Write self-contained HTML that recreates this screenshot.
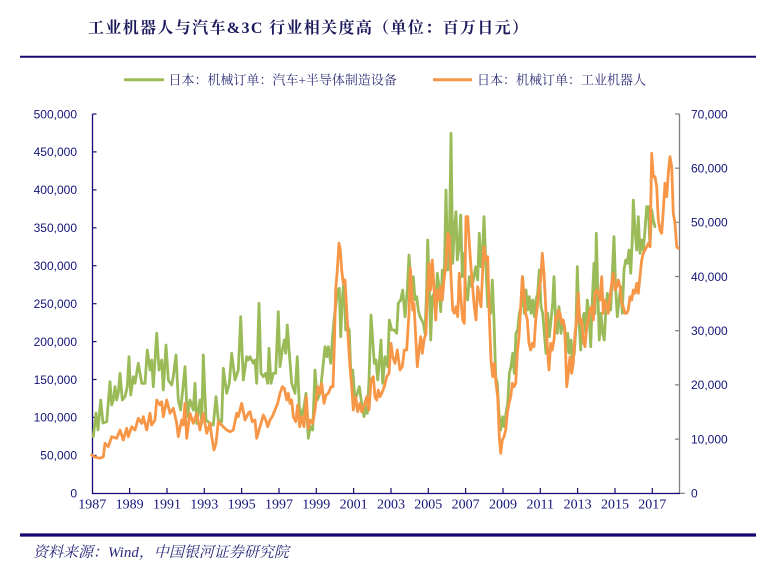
<!DOCTYPE html>
<html>
<head>
<meta charset="utf-8">
<style>
  html,body{margin:0;padding:0;background:#fff;}
  svg{display:block;}
  .title{font-family:"Liberation Serif","Noto Serif CJK SC",serif;font-weight:bold;font-size:16px;fill:#1d1a5c;letter-spacing:1.35px;}
  .leg{font-family:"Liberation Serif","Noto Serif CJK SC",serif;font-size:13px;fill:#30307a;}
  .yl{font-family:"Liberation Sans",sans-serif;font-size:12px;fill:#14147a;}
  .xl{font-family:"Liberation Serif",serif;font-size:14px;fill:#14147a;}
  .src{font-family:"Liberation Serif","Noto Serif CJK SC",serif;font-style:italic;font-size:15px;fill:#2a2a7a;}
</style>
</head>
<body>
<svg width="777" height="576" viewBox="0 0 777 576" xmlns="http://www.w3.org/2000/svg">
  <rect x="0" y="0" width="777" height="576" fill="#fff"/>
  <!-- title -->
  <text class="title" x="88" y="33">工业机器人与汽车&amp;3C 行业相关度高（单位：百万日元）</text>
  <line x1="20" y1="56.8" x2="756" y2="56.8" stroke="#16086e" stroke-width="2"/>

  <!-- legend -->
  <line x1="124" y1="79.7" x2="164" y2="79.7" stroke="#9BBB59" stroke-width="3"/>
  <text class="leg" x="168.5" y="84.5">日本：机械订单：汽车+半导体制造设备</text>
  <line x1="433" y1="79.7" x2="472" y2="79.7" stroke="#F79646" stroke-width="3"/>
  <text class="leg" x="477" y="84.5">日本：机械订单：工业机器人</text>

  <!-- left axis -->
  <line x1="92.5" y1="114" x2="92.5" y2="493.5" stroke="#1a0a78" stroke-width="1.3"/>
  <g stroke="#1a0a78" stroke-width="1.2">
    <line x1="92.5" y1="114" x2="96.5" y2="114"/>
    <line x1="92.5" y1="151.9" x2="96.5" y2="151.9"/>
    <line x1="92.5" y1="189.9" x2="96.5" y2="189.9"/>
    <line x1="92.5" y1="227.8" x2="96.5" y2="227.8"/>
    <line x1="92.5" y1="265.7" x2="96.5" y2="265.7"/>
    <line x1="92.5" y1="303.7" x2="96.5" y2="303.7"/>
    <line x1="92.5" y1="341.6" x2="96.5" y2="341.6"/>
    <line x1="92.5" y1="379.5" x2="96.5" y2="379.5"/>
    <line x1="92.5" y1="417.4" x2="96.5" y2="417.4"/>
    <line x1="92.5" y1="455.4" x2="96.5" y2="455.4"/>
  </g>
  <g class="yl" text-anchor="end">
    <text x="77" y="118.3">500,000</text>
    <text x="77" y="156.2">450,000</text>
    <text x="77" y="194.2">400,000</text>
    <text x="77" y="232.1">350,000</text>
    <text x="77" y="270">300,000</text>
    <text x="77" y="308">250,000</text>
    <text x="77" y="345.9">200,000</text>
    <text x="77" y="383.8">150,000</text>
    <text x="77" y="421.7">100,000</text>
    <text x="77" y="459.7">50,000</text>
    <text x="77" y="497.6">0</text>
  </g>

  <!-- right axis -->
  <line x1="679.5" y1="114" x2="679.5" y2="493.5" stroke="#808080" stroke-width="1.3"/>
  <g stroke="#808080" stroke-width="1.2">
    <line x1="675" y1="114" x2="679.5" y2="114"/>
    <line x1="675" y1="168.2" x2="679.5" y2="168.2"/>
    <line x1="675" y1="222.3" x2="679.5" y2="222.3"/>
    <line x1="675" y1="276.5" x2="679.5" y2="276.5"/>
    <line x1="675" y1="330.7" x2="679.5" y2="330.7"/>
    <line x1="675" y1="384.9" x2="679.5" y2="384.9"/>
    <line x1="675" y1="439.1" x2="679.5" y2="439.1"/>
    <line x1="675" y1="493.3" x2="685" y2="493.3"/>
  </g>
  <g class="yl">
    <text x="691" y="118.3">70,000</text>
    <text x="691" y="172.5">60,000</text>
    <text x="691" y="226.6">50,000</text>
    <text x="691" y="280.8">40,000</text>
    <text x="691" y="335">30,000</text>
    <text x="691" y="389.2">20,000</text>
    <text x="691" y="443.4">10,000</text>
    <text x="691" y="497.6">0</text>
  </g>

  <!-- series -->
  <polyline fill="none" stroke="#9BBB59" stroke-width="2.8" stroke-linejoin="round" stroke-linecap="round" points="
93.3,436.7 96,413 98,430 100.7,400 103,423 106.7,421.7 110,381.7 111.7,405 113.3,400 115,386.7 116.7,400 118.3,393 120,373.3 122.3,400 125,396.7 127.3,386.7 129,356.7 130.7,395 133.3,376.7 135,383.3 138.3,363.3 140,373 141.7,383.3 145,383.3 147.3,350 150,370 151.7,360 153.3,386.7 155,360 156.7,333.3 159,370 161.7,360 163.3,390 166,345 168.3,380 171.7,385 173.3,376.7 176,355 178.3,400 180.7,410 185,366.7 187.3,416.7 190,400 193.3,410 195,383.3 196.7,423.3 200,400 201.7,423.3 203.3,355 206,420 210,423.3 213.3,425 216,396.7 218.3,420 221.7,421.7 223.3,368.3 226.7,393.3 229.3,383.3 231.7,353.3 235,380 238.3,370 240.7,316.7 243.3,380 246.7,356.7 248.3,360 250,356.7
253.3,363.3 255,360 256.7,383.3 259,303.3 261,373.3 263.3,376.7 265.7,373.3 267.7,383.3 269,348.3 271,383.3 273.3,373.3 275.7,373.3 278.3,311.7 280,366.7 282.3,350 284.3,340 285.7,353.3 287.3,325 289.3,353.3 291.7,383.3 295,393.3 297.3,356.7 299.3,406.7 301.7,416.7 304,406.7 306,393.3 308.3,438.3 310.3,426.7 312.7,430 315,370 317.3,400 320,393.3 322.3,373.3 325,346.7 326.7,356.7 328.3,346.7 330.7,363.3 332.3,340 334,320 335.7,306.7 337.7,290 339.3,288.3 340.7,336.7 342.3,300 344,280 345.7,330 347.7,326.7 349.3,330 351,380 352.7,370 355,400 357.3,393.3 359.3,386.7 361.7,403.3 364,416.7 365.7,406.7 367.3,413.3 369,380 371,315 372.7,340 374.3,363.3 376,360 377.7,380 379.3,363.3 381,340 382.7,383.3 385,356.7 387.7,366.7 389.3,320 391.7,330 394.3,330 396.7,333.3 398.3,303.3 400.7,300 402.7,290 405,316.7 407.3,290 409,255 411.7,290 413.3,276.7
415,300 416.7,296.7 418.3,310 420,316.7 421.7,320 423.3,323.3 425,333.3 426.7,286.7 427.7,240 429.3,286.7 430.7,340 432.3,296.7 434,293.3 435.7,313.3 437.3,273.3 439,286.7 440.7,311.7 442.3,270 444.3,276.7 446,190 447.7,270 449.3,246.7 451,133.3 452.7,263.3 454.3,230 456,211.7 457.3,260 459,246.7 460.7,215 462.3,276.7 464,253.3 466,296.7 467.7,300 469.3,276.7 471.7,286.7 474,276.7 475.7,266.7 477.7,280 479.3,233.3 481,266.7 482.7,250 484,216.7 486,266.7 487.7,306.7 489.3,306.7 490.7,313.3 492.3,280 494,320 495.7,376.7 497.3,383.3 499,413.3 500.7,430 502.7,416.7 504.3,426.7 506,413.3 507.7,403.3 509.3,373.3 511,366.7 512.7,353.3 514.3,373.3 516,333.3 517.7,330 519.3,313.3 521,306.7 522.7,276.7 524.3,313.3 526,290 527.7,310 529.3,296.7 531,313.3 532.7,300 534.3,316.7 536,300 537.7,293.3 539.3,270 541,306.7 542.7,313.3 544.3,333.3 546,353.3 547.7,313.3 549.3,336.7 551,320 552.7,303.3 554,276.7 555.7,323.3 557.3,333.3 559,306.7
561,333.3 562.7,320 564.3,326.7 566,353.3 567.7,333.3 569.3,353.3 571,340 572.7,360 574.3,353.3 576,326.7 577.3,266.7 579,320 580.7,350 582.3,323.3 584,313.3 585.7,333.3 587.3,300 589,313.3 590.7,346.7 592.3,300 594,263.3 595,313.3 596.3,233.3 597.7,286.7 599.3,340 601,313.3 602.7,333.3 604.3,340 605.7,313.3 607.3,293.3 609,306.7 610.7,310 612.3,273.3 614,236.7 615.7,290 617.3,316.7 619,300 620.7,286.7 622.3,313.3 624,270 625.7,260 627.3,263.3 629,250 630.7,273.3 632.3,240 633.3,200 635,230 636.7,250 638.3,216.7 640,253.3 641.7,240 643.3,250 645,230 646.7,206.7 648.3,206.7 650,246.7 651.7,210 653.3,220 655,226.7"/>

  <polyline fill="none" stroke="#F79646" stroke-width="2.8" stroke-linejoin="round" stroke-linecap="round" points="
91.7,455 95,457 100,458.3 103.3,456.7 105,443.3 108.3,446.7 111.7,436.7 116.7,438.3 120,430 123.3,440 126.7,428.3 128.3,436.7 131.7,426.7 135,430 138.3,418.3 141.7,423.3 143.3,416.7 146.7,430 150,413.3 151.7,425 155,420 156.7,400 160,405 161.7,401.7 163.3,416.7 166.7,400 170,413.3 173.3,408.3 176.7,423.3 178.3,436.7 181.7,420 183.3,425 185,403.3 186.7,438.3 190,413.3 193.3,423.3 196.7,413.3 200,430 203.3,413.3 206.7,433.3 210,423.3 211.7,436.7 214,450 216,443.3 218.3,421.7 223.3,426.7 226.7,430 230,431.7 233.3,430 236.7,413.3 238.3,416.7 241.7,403.3 245,420 248.3,413.3
250,411.7 252.3,421.7 255,420 256.7,438.3 259,430 261,423.3 263.3,415 265.7,420 267.7,426.7 270,420 272.3,416.7 275,410 277.7,403.3 280,393.3 282.3,386.7 284.3,388.3 286.7,400 288.3,393.3 290,403.3 291.7,400 293.3,416.7 295.7,421.7 297.7,405 299.7,426.7 301.7,416.7 304,426.7 306.3,396.7 308.3,428.3 310.3,420 312.7,423.3 315,410 317.7,386.7 320,393.3 321.7,383.3 324,403.3 326,395 328.3,393.3 331,386.7 333,386.7 334.3,346.7 335.7,290 337.3,270 339,243.3 340.3,250 341.7,270 343.3,283.3 345,280 346.7,310 348.3,340 350,366.7 351.7,386.7 353.3,410 355.7,396.7 357.7,411.7 360,403.3 361.7,411.7 364,406.7 366.7,396.7 369,410 371,380 373.3,376.7 375,396.7 376.7,400 378.3,390 380,396.7 381.7,393.3 384.3,386.7 386.7,376.7 389,373.3 391,343.3 392.7,356.7 395,363.3 397.3,350 400,370 402.3,366.7 404.3,350 406.7,350 409,313.3 410.3,268 412.7,310 414,303.3 415.7,336.7 417.3,366.7
419,350 420.7,336.7 422.3,353.3 424,340 426,333.3 427.3,293.3 429,263.3 430.7,290 432.3,260 434,286.7 435.7,320 437.3,290 439,300 440.7,286.7 442.3,300 444,280 446,263.3 447.7,233.3 449.3,236.7 451,276.7 452.7,310 454.3,313.3 456,306.7 457.7,316.7 459.3,273.3 461,300 462.7,320 464.3,323.3 466,216.7 467.7,216.7 469.3,243.3 470.7,263.3 472.3,283.3 474.3,306.7 476,320 477.7,286.7 479.3,296.7 481,306.7 482.7,270 484,246.7 486,260 487.7,256.7 489.3,316.7 491,360 492.7,376.7 494.3,363.3 496,383.3 497.7,396.7 499.3,436.7 500.7,453.3 502.3,440 504,436.7 505.7,430 507.3,413.3 509,403.3 510.7,396.7 512.3,383.3 514,386.7 515.7,383.3 517.3,353.3 519,336.7 520.7,306.7 522.3,276.7 524,293.3 525.7,313.3 527.3,320 529,343.3 530.7,350 532.3,343.3 534,346.7 535.7,320 537.3,306.7 539,290 540.7,280 542.3,253.3 544,273.3 545.7,306.7 547.3,346.7 549,370 550.7,343.3 552.3,350 554,340 555.7,316.7
557,320 558.3,310 560,313.3 561.7,323.3 563.3,320 565,330 566.7,386.7 568.3,373.3 570,356.7 571.7,373.3 573.3,363.3 575,333.3 576.7,320 578.3,293.3 580,323.3 581.7,320 583.3,340 585,346.7 586.7,326.7 588.3,320 590,310 591.7,306.7 593.3,320 595,293.3 596.7,290 598.3,293.3 600,300 601.7,276.7 603.3,313.3 605,300 606.7,306.7 608.3,313.3 610,296.7 611.7,283.3 613.3,273.3 615,290 616.7,286.7 618.3,280 620,286.7 621.7,303.3 623.3,306.7 625,313.3 626.7,313.3 628.3,310 630,296.7 631.7,300 633.3,290 635,293.3 636.7,283.3 638.3,293.3 640,276.7 641.7,260 643.3,253.3 645,250 646.7,246.7 648.3,243.3 650,246.7 651.7,153.3 653.3,176.7 655,176.7 656.7,186.7 658.3,220 660,230 661.7,233.3 663.3,210 665,183.3 666.7,196.7 668.3,173.3 670,156.7 671.7,166.7 673.3,213.3 675,223.3 676.7,246.7 678.3,248.3"/>

  <!-- x axis -->
  <line x1="92" y1="493.5" x2="680" y2="493.5" stroke="#1a0a78" stroke-width="1.3"/>
  <g stroke="#1a0a78" stroke-width="1.2">
    <line x1="129.6" y1="488" x2="129.6" y2="493.5"/>
    <line x1="167" y1="488" x2="167" y2="493.5"/>
    <line x1="204.3" y1="488" x2="204.3" y2="493.5"/>
    <line x1="241.6" y1="488" x2="241.6" y2="493.5"/>
    <line x1="279" y1="488" x2="279" y2="493.5"/>
    <line x1="316.3" y1="488" x2="316.3" y2="493.5"/>
    <line x1="353.6" y1="488" x2="353.6" y2="493.5"/>
    <line x1="391" y1="488" x2="391" y2="493.5"/>
    <line x1="428.3" y1="488" x2="428.3" y2="493.5"/>
    <line x1="465.6" y1="488" x2="465.6" y2="493.5"/>
    <line x1="503" y1="488" x2="503" y2="493.5"/>
    <line x1="540.3" y1="488" x2="540.3" y2="493.5"/>
    <line x1="577.6" y1="488" x2="577.6" y2="493.5"/>
    <line x1="615" y1="488" x2="615" y2="493.5"/>
    <line x1="652.3" y1="488" x2="652.3" y2="493.5"/>
  </g>
  <g class="xl" text-anchor="middle">
    <text x="92.3" y="508.5">1987</text>
    <text x="129.6" y="508.5">1989</text>
    <text x="167" y="508.5">1991</text>
    <text x="204.3" y="508.5">1993</text>
    <text x="241.6" y="508.5">1995</text>
    <text x="279" y="508.5">1997</text>
    <text x="316.3" y="508.5">1999</text>
    <text x="353.6" y="508.5">2001</text>
    <text x="391" y="508.5">2003</text>
    <text x="428.3" y="508.5">2005</text>
    <text x="465.6" y="508.5">2007</text>
    <text x="503" y="508.5">2009</text>
    <text x="540.3" y="508.5">2011</text>
    <text x="577.6" y="508.5">2013</text>
    <text x="615" y="508.5">2015</text>
    <text x="652.3" y="508.5">2017</text>
  </g>

  <!-- bottom rule & source -->
  <line x1="20" y1="535" x2="756" y2="535" stroke="#16086e" stroke-width="3.2"/>
  <text class="src" x="33" y="557">资料来源：Wind，中国银河证券研究院</text>
</svg>
</body>
</html>
